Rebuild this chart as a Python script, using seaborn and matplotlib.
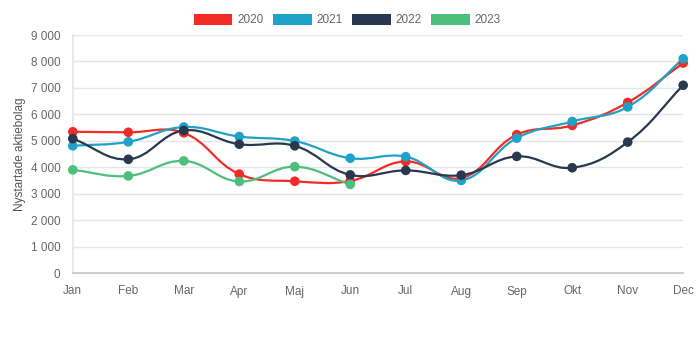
import numpy as np
import pandas as pd
import matplotlib
matplotlib.use("Agg")
import matplotlib.pyplot as plt
from matplotlib.path import Path
from matplotlib.patches import PathPatch, Patch
from matplotlib.ticker import FuncFormatter
import seaborn as sns

months = ["Jan", "Feb", "Mar", "Apr", "Maj", "Jun", "Jul", "Aug", "Sep", "Okt", "Nov", "Dec"]
v2020 = [5340, 5320, 5300, 3740, 3470, 3480, 4220, 3590, 5230, 5580, 6450, 7940]
v2021 = [4810, 4960, 5520, 5160, 4990, 4340, 4400, 3500, 5100, 5730, 6280, 8100]
v2022 = [5080, 4300, 5390, 4870, 4810, 3710, 3880, 3700, 4410, 3980, 4950, 7100]
v2023 = [3900, 3670, 4240, 3460, 4020, 3350]
years = ["2020", "2021", "2022", "2023"]
colors = ["#f22b26", "#1ea2c8", "#28384f", "#4cbf7d"]

series = {"2020": v2020, "2021": v2021, "2022": v2022, "2023": v2023}
rows = []
for y in years:
    for i, v in enumerate(series[y]):
        rows.append({"month": i, "value": v, "year": y})
df = pd.DataFrame(rows)

sns.set_theme(style="white")
plt.rcParams['font.family'] = ['Liberation Sans', 'DejaVu Sans']

fig = plt.figure(figsize=(7, 3.5), dpi=100)
ax = fig.add_axes([0.104, 0.22, 0.872, 0.68])
ax.set_xlim(0, 11)
ax.set_ylim(0, 9000)

# pixel scales for tension computation
sx = 610 / 11.0
sy = 238 / 9000.0

def spline_path(xs, ys, t=0.4):
    px = np.array(xs, float) * sx
    py = np.array(ys, float) * sy
    n = len(px)
    cps = []
    for i in range(n):
        p0 = (px[max(i - 1, 0)], py[max(i - 1, 0)])
        p1 = (px[i], py[i])
        p2 = (px[min(i + 1, n - 1)], py[min(i + 1, n - 1)])
        d01 = np.hypot(p1[0] - p0[0], p1[1] - p0[1])
        d12 = np.hypot(p2[0] - p1[0], p2[1] - p1[1])
        tot = d01 + d12
        s01 = d01 / tot if tot else 0
        s12 = d12 / tot if tot else 0
        fa = t * s01
        fb = t * s12
        cp_prev = (p1[0] - fa * (p2[0] - p0[0]), p1[1] - fa * (p2[1] - p0[1]))
        cp_next = (p1[0] + fb * (p2[0] - p0[0]), p1[1] + fb * (p2[1] - p0[1]))
        cps.append((cp_prev, cp_next))
    verts = [(px[0] / sx, py[0] / sy)]
    codes = [Path.MOVETO]
    for i in range(n - 1):
        c1 = cps[i][1]
        c2 = cps[i + 1][0]
        verts += [(c1[0] / sx, c1[1] / sy), (c2[0] / sx, c2[1] / sy), (px[i + 1] / sx, py[i + 1] / sy)]
        codes += [Path.CURVE4] * 3
    return Path(verts, codes)

# grid
for v in range(1000, 9001, 1000):
    ax.axhline(v, color="#e5e5e5", lw=1.0, zorder=0)

for y, c in zip(years, colors):
    vals = series[y]
    path = spline_path(range(len(vals)), vals)
    ax.add_patch(PathPatch(path, facecolor="none", edgecolor=c, lw=1.6, zorder=2, clip_on=False))

sns.scatterplot(data=df, x="month", y="value", hue="year", palette=colors,
                s=48, edgecolor="none", legend=False, ax=ax, zorder=3, clip_on=False)

ax.set_xticks(range(12))
ax.set_xticklabels(months)
ax.set_yticks(range(0, 9001, 1000))
ax.yaxis.set_major_formatter(FuncFormatter(lambda v, p: f"{int(v):,}".replace(",", " ")))
ax.tick_params(axis="both", colors="#c8c8c8", labelcolor="#666666", labelsize=8.5,
               length=6, width=1, direction="out", pad=3)
ax.set_xlabel("")
ax.set_ylabel("Nystartade aktiebolag", color="#555555", fontsize=8.5, labelpad=3)
for s in ["top", "right"]:
    ax.spines[s].set_visible(False)
ax.spines["left"].set_color("#e5e5e5")
ax.spines["bottom"].set_color("#c8c8c8")
ax.spines["bottom"].set_linewidth(1.3)

handles = [Patch(facecolor=c, edgecolor="none", label=y) for y, c in zip(years, colors)]
fig.legend(handles=handles, loc="center", bbox_to_anchor=(0.496, 0.943), ncol=4, frameon=False,
           fontsize=8.5, handlelength=3.3, handleheight=1.1, handletextpad=0.42, columnspacing=0.76,
           labelcolor="#666666")

fig.savefig("out.png", dpi=100)
